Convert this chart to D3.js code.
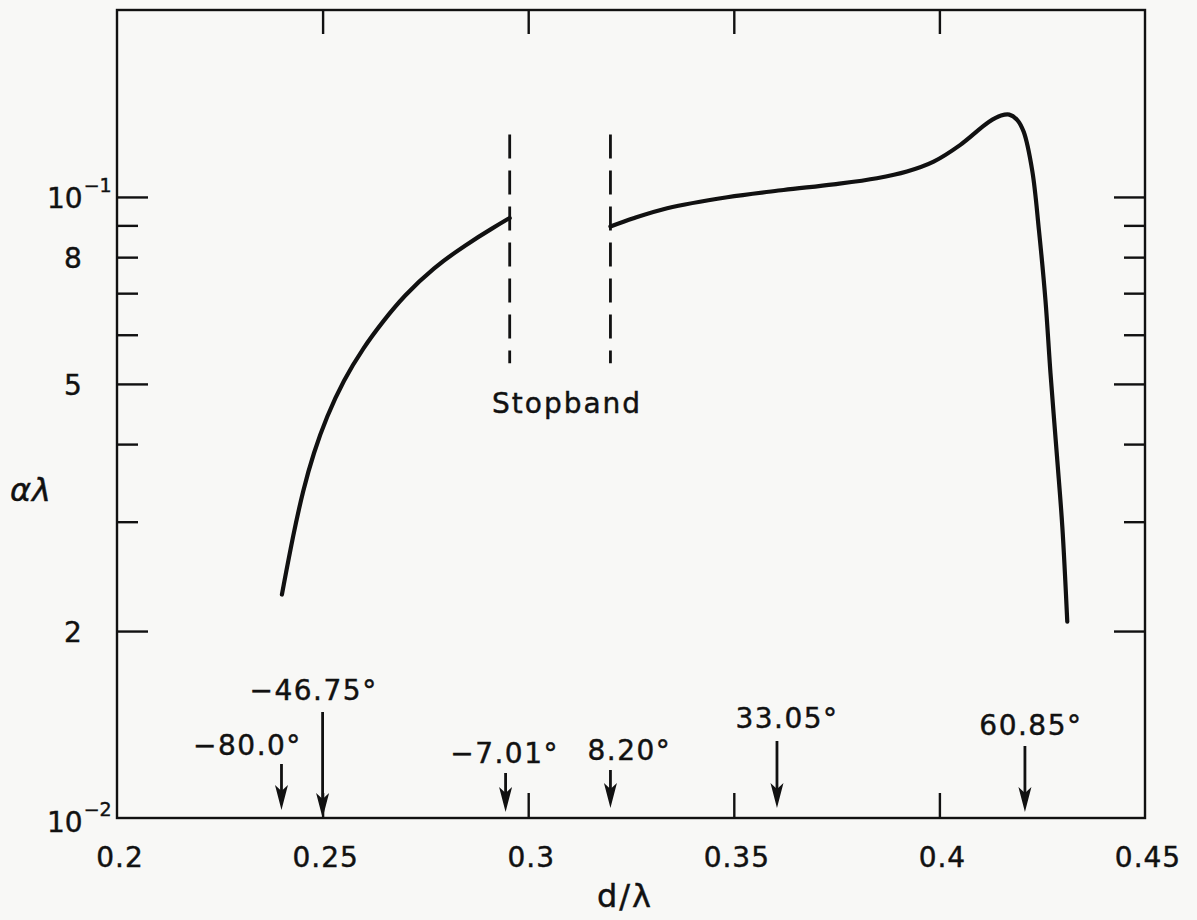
<!DOCTYPE html>
<html>
<head>
<meta charset="utf-8">
<script src="https://cdn.jsdelivr.net/npm/d3@7"></script>
<style>
  html, body { margin: 0; padding: 0; background: #f8f8f6; }
  svg { display: block; }
  text { font-family: "DejaVu Sans", "Liberation Sans", sans-serif; fill: #111; stroke: #111; stroke-width: 0.45px; }
</style>
</head>
<body>
<svg id="chart" width="1197" height="920"></svg>
<script>
// ---------- data ----------
const xDomain = [0.2, 0.45];
const yDomain = [0.01, 0.2];
const xTickValues = [0.2, 0.25, 0.3, 0.35, 0.4, 0.45];
const xTickLabels = ["0.2", "0.25", "0.3", "0.35", "0.4", "0.45"];
const xInnerTicks = [0.25, 0.3, 0.35, 0.4];
const yMajorTicks = [0.02, 0.05, 0.1];
const yMinorTicks = [0.03, 0.04, 0.06, 0.07, 0.08, 0.09];
const yLabelValues = [0.01, 0.02, 0.05, 0.08, 0.1];
const yLabelText = ["10", "2", "5", "8", "10"];
const yLabelSup = ["\u22122", "", "", "", "\u22121"];

// curve below the stopband (d/lambda, alpha*lambda)
const lowD = [0.2401, 0.2429, 0.2453, 0.2478, 0.2510, 0.2551, 0.2599, 0.2648, 0.2697, 0.2770, 0.2851, 0.2916, 0.2955];
const lowA = [0.0229, 0.0287, 0.0338, 0.0387, 0.0443, 0.0507, 0.0572, 0.0632, 0.0692, 0.0770, 0.0840, 0.0893, 0.0925];
// curve above the stopband
const highD = [0.3200, 0.3256, 0.3338, 0.3484, 0.3621, 0.3743, 0.3848, 0.3921, 0.3986, 0.4051, 0.4120, 0.4150, 0.4170, 0.4189, 0.4205, 0.4226, 0.4242, 0.4258, 0.4270, 0.4286, 0.4299, 0.4311];
const highA = [0.0896, 0.0924, 0.0959, 0.0999, 0.1026, 0.1048, 0.1072, 0.1099, 0.1140, 0.1213, 0.1320, 0.1352, 0.1357, 0.1331, 0.1273, 0.1100, 0.0885, 0.0681, 0.0522, 0.0382, 0.0294, 0.0207];

// stopband edges
const stopbandD = [0.2955, 0.32];
const stopbandRange = [0.054, 0.126];
const stopbandLabel = "Stopband";

// angle markers
const markerD = [0.24, 0.25, 0.2945, 0.32, 0.3605, 0.4208];
const markerLabels = ["\u221280.0\u00b0", "\u221246.75\u00b0", "\u22127.01\u00b0", "8.20\u00b0", "33.05\u00b0", "60.85\u00b0"];

const xTitle = "d/\u03bb";
const yTitle = "\u03b1\u03bb";

// ---------- layout ----------
const mLeft = 117, mRight = 1145, mTop = 10, mBottom = 818;
const svg = d3.select("#chart");
const x = d3.scaleLinear().domain(xDomain).range([mLeft, mRight]);
const y = d3.scaleLog().domain(yDomain).range([mBottom, mTop]);
const ink = "#111";

// frame
svg.append("rect")
  .attr("x", mLeft).attr("y", mTop)
  .attr("width", mRight - mLeft).attr("height", mBottom - mTop)
  .attr("fill", "none").attr("stroke", ink).attr("stroke-width", 2.4);

// y ticks (left and right, inward)
svg.append("g").attr("transform", `translate(${mLeft},0)`)
  .call(d3.axisRight(y).tickValues(yMajorTicks).tickSize(31).tickFormat(""))
  .call(g => g.select(".domain").remove());
svg.append("g").attr("transform", `translate(${mLeft},0)`)
  .call(d3.axisRight(y).tickValues(yMinorTicks).tickSize(21).tickFormat(""))
  .call(g => g.select(".domain").remove());
svg.append("g").attr("transform", `translate(${mRight},0)`)
  .call(d3.axisLeft(y).tickValues(yMajorTicks).tickSize(31).tickFormat(""))
  .call(g => g.select(".domain").remove());
svg.append("g").attr("transform", `translate(${mRight},0)`)
  .call(d3.axisLeft(y).tickValues(yMinorTicks).tickSize(21).tickFormat(""))
  .call(g => g.select(".domain").remove());

// x ticks (bottom and top, inward)
svg.append("g").attr("transform", `translate(0,${mBottom})`)
  .call(d3.axisTop(x).tickValues(xInnerTicks).tickSize(25).tickFormat(""))
  .call(g => g.select(".domain").remove());
svg.append("g").attr("transform", `translate(0,${mTop})`)
  .call(d3.axisBottom(x).tickValues(xInnerTicks).tickSize(24).tickFormat(""))
  .call(g => g.select(".domain").remove());
svg.selectAll(".tick line").attr("stroke", ink).attr("stroke-width", 2.4);

// x tick labels
svg.append("g").selectAll("text").data(xTickValues).join("text")
  .attr("x", d => x(d) + 3).attr("y", mBottom + 49)
  .attr("text-anchor", "middle")
  .attr("font-size", 28).attr("letter-spacing", 1)
  .text((d, i) => xTickLabels[i]);

// y tick labels
const yl = svg.append("g").selectAll("text").data(yLabelValues).join("text")
  .attr("x", (d, i) => yLabelSup[i] ? 47 : 64)
  .attr("y", (d, i) => y(d) + (i === 0 ? 14 : 11))
  .attr("font-size", 28);
yl.append("tspan").text((d, i) => yLabelText[i]);
yl.append("tspan").attr("dy", -16).attr("font-size", 19).attr("dx", 1)
  .text((d, i) => yLabelSup[i]);

// axis titles
svg.append("text").attr("x", (mLeft + mRight) / 2 - 6).attr("y", 907)
  .attr("text-anchor", "middle").attr("font-size", 32).attr("letter-spacing", 2)
  .text(xTitle);
svg.append("text").attr("x", 10).attr("y", 501)
  .attr("font-size", 32).attr("font-style", "italic").attr("letter-spacing", 1)
  .text(yTitle);

// curves
const lineLow = d3.line().x(d => x(d[0])).y(d => y(d[1])).curve(d3.curveBasis);
const lineHigh = d3.line().x(d => x(d[0])).y(d => y(d[1])).curve(d3.curveCatmullRom.alpha(0.5));
svg.append("path").datum(lowD.map((d, i) => [d, lowA[i]]))
  .attr("d", lineLow).attr("fill", "none").attr("stroke", ink)
  .attr("stroke-width", 4.2).attr("stroke-linecap", "round").attr("stroke-linejoin", "round");
svg.append("path").datum(highD.map((d, i) => [d, highA[i]]))
  .attr("d", lineHigh).attr("fill", "none").attr("stroke", ink)
  .attr("stroke-width", 4.2).attr("stroke-linecap", "round").attr("stroke-linejoin", "round");

// stopband dashed lines
svg.append("g").selectAll("line").data(stopbandD).join("line")
  .attr("x1", d => x(d)).attr("x2", d => x(d))
  .attr("y1", y(stopbandRange[1])).attr("y2", y(stopbandRange[0]))
  .attr("stroke", ink).attr("stroke-width", 2.8).attr("stroke-dasharray", "24,12");
svg.append("text")
  .attr("x", (x(stopbandD[0]) + x(stopbandD[1])) / 2 + 7).attr("y", 413)
  .attr("text-anchor", "middle").attr("font-size", 28).attr("letter-spacing", 2)
  .text(stopbandLabel);

// angle markers: arrow length, tip gap, label offset x, label gap above arrow top
const arrowLen = [46, 106, 39, 38, 67, 66];
const tipGap = [8, 0, 6, 10, 10, 6];
const labelDx = [-34, -9, -1, 19, 10, 6];
const labelGap = [9, 12, 10, 10, 13, 11];
const mk = svg.append("g").selectAll("g").data(markerD).join("g");
mk.append("line")
  .attr("x1", d => x(d)).attr("x2", d => x(d))
  .attr("y1", (d, i) => mBottom - tipGap[i] - arrowLen[i])
  .attr("y2", (d, i) => mBottom - tipGap[i] - 12)
  .attr("stroke", ink).attr("stroke-width", 2.8);
mk.append("path")
  .attr("d", (d, i) => {
    const cx = x(d), ty = mBottom - tipGap[i];
    return `M${cx - 6.5},${ty - 25} L${cx},${ty - 19} L${cx + 6.5},${ty - 25} L${cx},${ty} Z`;
  })
  .attr("fill", ink);
mk.append("text")
  .attr("x", (d, i) => x(d) + labelDx[i])
  .attr("y", (d, i) => mBottom - tipGap[i] - arrowLen[i] - labelGap[i])
  .attr("text-anchor", "middle").attr("font-size", 28).attr("letter-spacing", 1.5)
  .text((d, i) => markerLabels[i]);
</script>
</body>
</html>
